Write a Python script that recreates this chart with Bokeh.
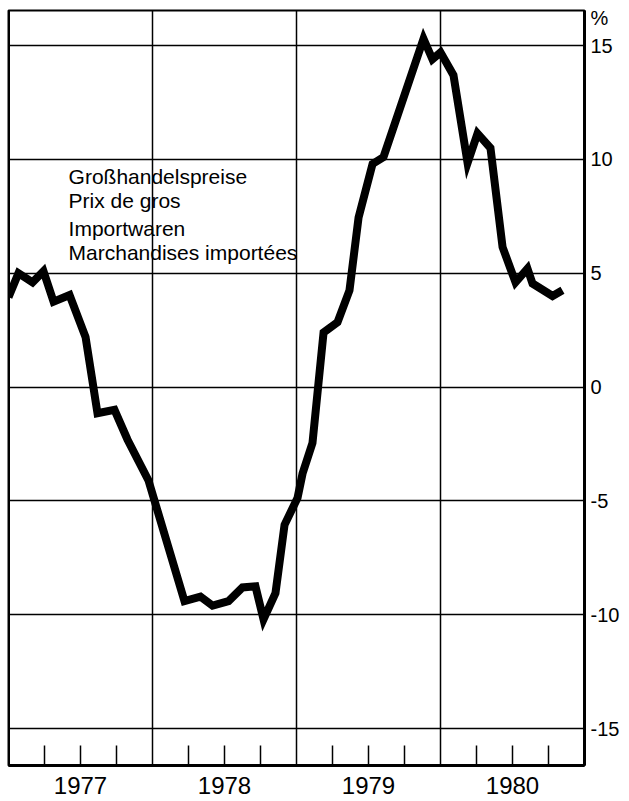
from bokeh.plotting import figure
from bokeh.models import FixedTicker, Label, Range1d, Span
from bokeh.embed import file_html
from bokeh.resources import INLINE

FONT = "Liberation Sans"

# --- data (decimal year, % change) ---
dates = [1977.000, 1977.069, 1977.167, 1977.243, 1977.313, 1977.424, 1977.535,
         1977.618, 1977.736, 1977.826, 1977.972, 1978.222, 1978.333, 1978.417,
         1978.528, 1978.625, 1978.715, 1978.771, 1978.854, 1978.917, 1979.007,
         1979.042, 1979.111, 1979.188, 1979.285, 1979.368, 1979.431, 1979.528,
         1979.604, 1979.882, 1979.944, 1980.000, 1980.090, 1980.188, 1980.257,
         1980.347, 1980.431, 1980.521, 1980.604, 1980.639, 1980.778, 1980.847]
values = [3.95, 5.0, 4.6, 5.09, 3.75, 4.04, 2.2,
          -1.15, -1.0, -2.3, -4.1, -9.4, -9.2, -9.6,
          -9.4, -8.8, -8.75, -10.2, -9.05, -6.05, -4.87,
          -3.8, -2.45, 2.4, 2.85, 4.25, 7.45, 9.8,
          10.1, 15.3, 14.4, 14.7, 13.7, 9.85, 11.14,
          10.5, 6.15, 4.6, 5.2, 4.55, 4.0, 4.25]

years = [1977, 1978, 1979, 1980]
year_bounds = [1978, 1979, 1980]
y_ticks = [-15, -10, -5, 0, 5, 10, 15]
y_labels = {-15: "-15", -10: "-10", -5: "-5", 0: "0", 5: "5", 10: "10", 15: "15"}
unit_label = "%"
unit_pos = 16.2
legend_lines = ["Großhandelspreise", "Prix de gros", "Importwaren", "Marchandises importées"]

p = figure(width=622, height=800, output_backend="svg", toolbar_location=None,
           x_range=Range1d(1977, 1981), y_range=Range1d(-16.62, 16.54),
           y_axis_location="right",
           min_border_left=8, min_border_top=10, min_border_right=0, min_border_bottom=35)
p.background_fill_color = "white"
p.border_fill_color = "white"
p.outline_line_color = "black"
p.outline_line_width = 2

# grids
p.xgrid.ticker = FixedTicker(ticks=year_bounds)
p.ygrid.ticker = FixedTicker(ticks=y_ticks)
for g in (p.xgrid, p.ygrid):
    g.grid_line_color = "black"
    g.grid_line_width = 1.5
    g.grid_line_alpha = 1.0

# bottom axis: quarterly ticks inside, year labels centered
quarters = []
overrides_x = {}
for y in years:
    for q in (0.25, 0.5, 0.75):
        quarters.append(y + q)
        overrides_x[y + q] = str(y) if q == 0.5 else ""
xa = p.xaxis[0]
xa.ticker = FixedTicker(ticks=quarters)
xa.major_label_overrides = overrides_x
xa.major_tick_in = 20
xa.major_tick_out = 0
xa.major_tick_line_width = 1.5
xa.major_tick_line_color = "black"
xa.minor_tick_line_color = None
xa.axis_line_width = 3
xa.axis_line_color = "black"
xa.major_label_text_font = FONT
xa.major_label_text_font_size = "24px"
xa.major_label_text_color = "black"
xa.major_label_standoff = 11

# right axis
ya = p.yaxis[0]
ya.ticker = FixedTicker(ticks=y_ticks + [unit_pos])
lab = dict(y_labels)
lab[unit_pos] = unit_label
ya.major_label_overrides = lab
ya.major_tick_in = 0
ya.major_tick_out = 0
ya.minor_tick_line_color = None
ya.axis_line_width = 3
ya.axis_line_color = "black"
ya.major_label_text_font = FONT
ya.major_label_text_font_size = "20px"
ya.major_label_text_color = "black"
ya.major_label_standoff = 6

# thick left border
p.add_layout(Span(location=1977, dimension="height", line_color="black", line_width=3))

# series
p.line(dates, values, line_color="black", line_width=8, line_join="miter", line_cap="butt")

# text block
text_y = [9.27, 8.21, 6.98, 5.93]
for t, ty in zip(legend_lines, text_y):
    p.add_layout(Label(x=1977.417, y=ty, text=t, text_font=FONT, text_font_size="21px",
                       text_color="black", text_baseline="alphabetic"))

open("out.html", "w").write(file_html(p, INLINE))
